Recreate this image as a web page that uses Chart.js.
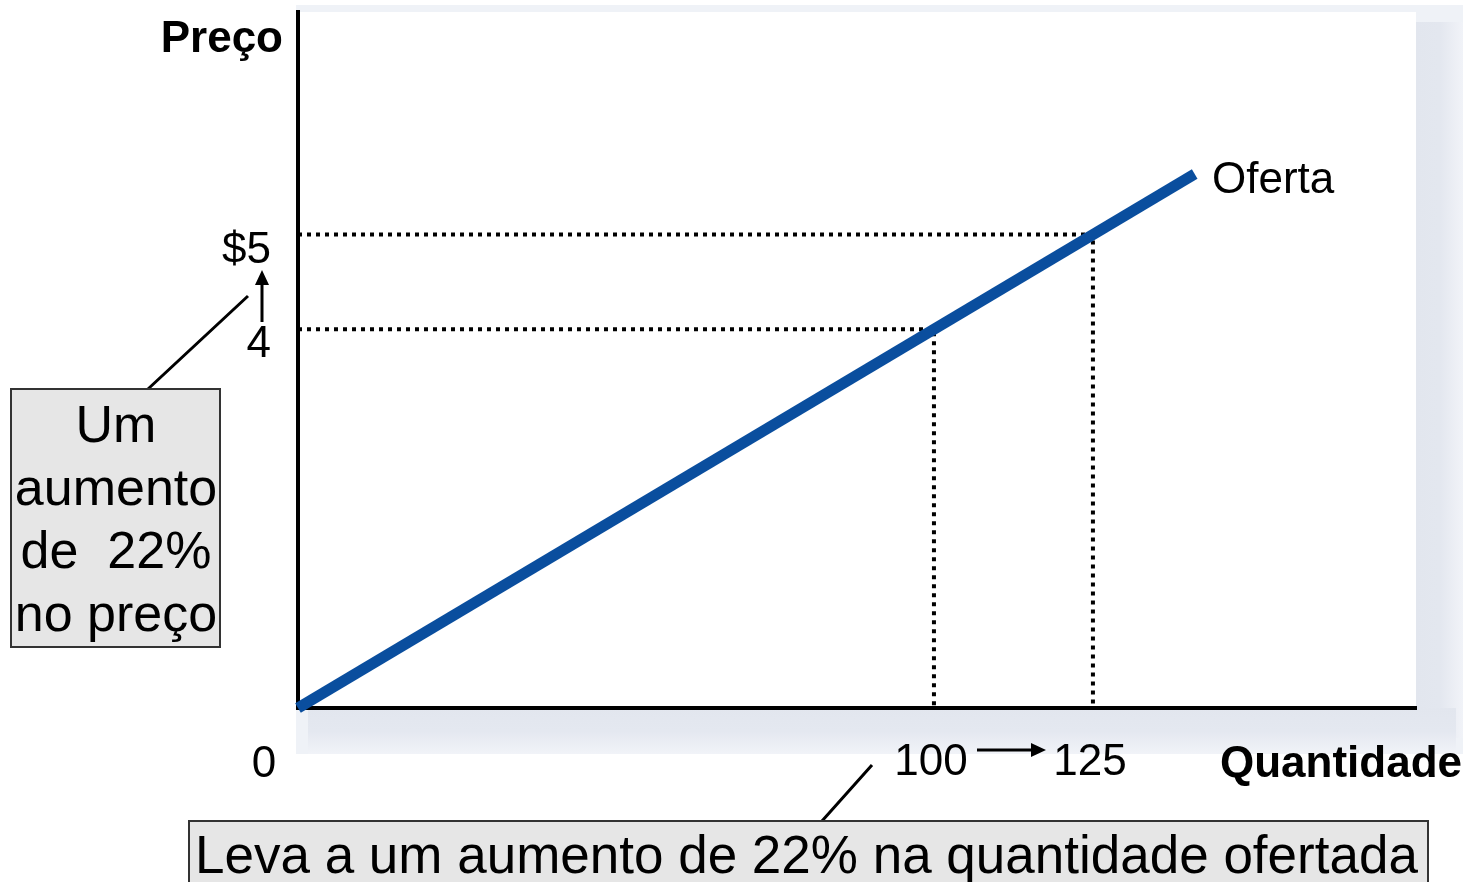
<!DOCTYPE html>
<html>
<head>
<meta charset="utf-8">
<script src="https://cdn.jsdelivr.net/npm/chart.js@4/dist/chart.umd.min.js"></script>
<style>
  html, body { margin: 0; padding: 0; background: #fff; }
  #wrap { width: 1473px; height: 882px; }
</style>
</head>
<body>
<div id="wrap"><canvas id="supplyChart" width="1473" height="882"></canvas></div>
<script>
// valores
const supplyQty = [0, 141];          // quantidade ao longo da curva de oferta
const supplyPrice = [0, 5.64];       // preço correspondente
const priceLevels = [4, 5];          // preços marcados
const qtyLevels = [100, 125];        // quantidades marcadas
const yTickLabels = ["4", "$5"];
const xTickLabels = ["100", "125"];

const FONT = "'Liberation Sans', Arial, sans-serif";

function guide(q, p) {
    return [{ x: 0, y: p }, { x: q, y: p }, { x: q, y: 0 }];
}

function arrow(ctx, x1, y1, x2, y2) {
    const ang = Math.atan2(y2 - y1, x2 - x1);
    const hl = 15, hw = 7;
    ctx.strokeStyle = "#000";
    ctx.lineWidth = 3;
    ctx.beginPath();
    ctx.moveTo(x1, y1);
    ctx.lineTo(x2 - Math.cos(ang) * hl, y2 - Math.sin(ang) * hl);
    ctx.stroke();
    ctx.fillStyle = "#000";
    ctx.beginPath();
    ctx.moveTo(x2, y2);
    ctx.lineTo(x2 - Math.cos(ang) * hl - Math.sin(ang) * hw, y2 - Math.sin(ang) * hl + Math.cos(ang) * hw);
    ctx.lineTo(x2 - Math.cos(ang) * hl + Math.sin(ang) * hw, y2 - Math.sin(ang) * hl - Math.cos(ang) * hw);
    ctx.closePath();
    ctx.fill();
}

function noPad(s) {
    s.paddingTop = 0;
    s.paddingBottom = 0;
    s.paddingLeft = 0;
    s.paddingRight = 0;
}

const backdrop = {
    id: "backdrop",
    beforeDraw(chart) {
        const ctx = chart.ctx;
        const a = chart.chartArea;
        ctx.save();
        ctx.fillStyle = "#fff";
        ctx.fillRect(0, 0, chart.width, chart.height);
        // moldura sombreada
        ctx.fillStyle = "#eff2f7";
        ctx.fillRect(a.left - 2, 5, a.right + 47 - (a.left - 2), a.bottom + 46 - 5);
        let g = ctx.createLinearGradient(a.right, 0, a.right + 47, 0);
        g.addColorStop(0, "#e2e6ee");
        g.addColorStop(0.5, "#e3e7ef");
        g.addColorStop(1, "#f1f3f8");
        ctx.fillStyle = g;
        ctx.fillRect(a.right, 22, 47, a.bottom + 30 - 22);
        g = ctx.createLinearGradient(0, a.bottom, 0, a.bottom + 46);
        g.addColorStop(0, "#e2e6ee");
        g.addColorStop(0.5, "#e4e8f0");
        g.addColorStop(1, "#f1f3f8");
        ctx.fillStyle = g;
        ctx.fillRect(a.left + 10, a.bottom, a.right + 30 - a.left, 46);
        ctx.fillStyle = "#fff";
        ctx.fillRect(a.left, a.top, a.right - a.left, a.bottom - a.top);
        ctx.restore();
    },
    afterDraw(chart) {
        const ctx = chart.ctx;
        ctx.save();
        ctx.fillStyle = "#000";
        ctx.textBaseline = "alphabetic";

        ctx.font = "bold 44px " + FONT;
        ctx.textAlign = "right";
        ctx.fillText("Preço", 283, 52);
        ctx.textAlign = "left";
        ctx.fillText("Quantidade", 1220, 777);

        ctx.font = "44px " + FONT;
        ctx.fillText("Oferta", 1212, 193);
        ctx.textAlign = "center";
        ctx.fillText("0", 264, 777);

        // setas entre os valores
        arrow(ctx, 262, 322, 262, 270);
        arrow(ctx, 977, 750, 1046, 750);

        // linhas de chamada
        ctx.strokeStyle = "#000";
        ctx.lineWidth = 3;
        ctx.beginPath();
        ctx.moveTo(148, 389);
        ctx.lineTo(248, 296);
        ctx.moveTo(822, 821);
        ctx.lineTo(872, 765);
        ctx.stroke();

        // caixa da esquerda
        ctx.fillStyle = "#e6e6e6";
        ctx.fillRect(11, 389, 209, 258);
        ctx.strokeStyle = "#333";
        ctx.lineWidth = 2;
        ctx.strokeRect(11, 389, 209, 258);
        ctx.fillStyle = "#000";
        ctx.font = "52px " + FONT;
        ctx.textAlign = "center";
        ["Um", "aumento", "de  22%", "no preço"].forEach((t, i) => {
            ctx.fillText(t, 116, 442 + i * 63);
        });

        // caixa de baixo
        ctx.fillStyle = "#e6e6e6";
        ctx.fillRect(189, 821, 1239, 70);
        ctx.strokeStyle = "#333";
        ctx.strokeRect(189, 821, 1239, 70);
        ctx.fillStyle = "#000";
        ctx.font = "53px " + FONT;
        ctx.textAlign = "left";
        ctx.fillText("Leva a um aumento de 22% na quantidade ofertada", 195, 873);
        ctx.restore();
    }
};

const guideSets = priceLevels.map((p, i) => ({
    data: guide(qtyLevels[i], p),
    borderColor: "#000",
    borderWidth: 4,
    borderDash: [4, 5],
    pointRadius: 0,
    showLine: true,
    order: 2
}));

new Chart(document.getElementById("supplyChart"), {
    type: "scatter",
    data: {
        datasets: [{
            label: "Oferta",
            data: supplyQty.map((q, i) => ({ x: q, y: supplyPrice[i] })),
            borderColor: "#0a4e9e",
            borderWidth: 11,
            borderCapStyle: "butt",
            pointRadius: 0,
            showLine: true,
            clip: false,
            order: 1
        }, ...guideSets]
    },
    plugins: [backdrop],
    options: {
        responsive: false,
        animation: false,
        devicePixelRatio: 1,
        layout: { padding: { left: 0, top: 12, right: 57, bottom: 74 } },
        plugins: { legend: { display: false }, tooltip: { enabled: false } },
        scales: {
            x: {
                type: "linear",
                min: 0,
                max: 175.8,
                grid: { display: false, drawTicks: false },
                border: { display: true, color: "#000", width: 4 },
                afterFit: s => { s.height = 100; noPad(s); },
                afterBuildTicks: s => { s.ticks = qtyLevels.map(v => ({ value: v })); },
                ticks: {
                    padding: 28,
                    labelOffset: -3,
                    color: "#000",
                    font: { family: FONT, size: 44 },
                    callback: v => xTickLabels[qtyLevels.indexOf(v)]
                }
            },
            y: {
                type: "linear",
                min: 0,
                max: 7.35,
                grid: { display: false, drawTicks: false },
                border: { display: true, color: "#000", width: 4 },
                afterFit: s => { s.width = 298; noPad(s); },
                afterBuildTicks: s => { s.ticks = priceLevels.map(v => ({ value: v })); },
                ticks: {
                    padding: 27,
                    labelOffset: 16,
                    color: "#000",
                    font: { family: FONT, size: 44 },
                    callback: v => yTickLabels[priceLevels.indexOf(v)]
                }
            }
        }
    }
});
</script>
</body>
</html>
